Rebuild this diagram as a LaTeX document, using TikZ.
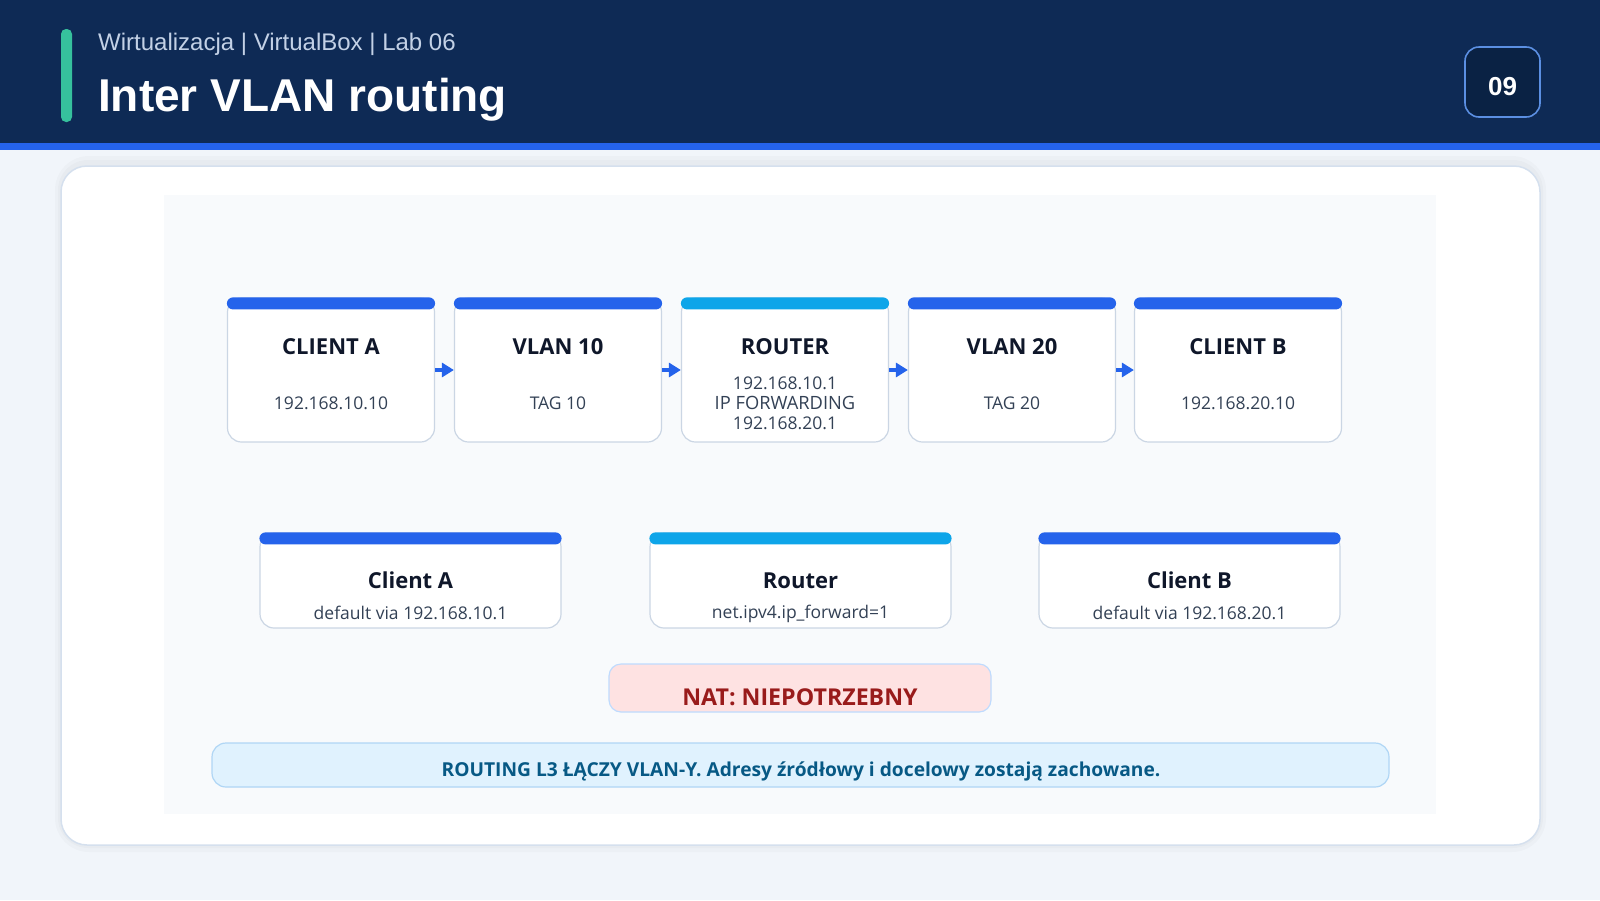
\documentclass[tikz,border=0pt]{standalone}
\usepackage{fontspec}
\setmainfont{Open Sans}
\newfontfamily\headfont{Liberation Sans}
\usetikzlibrary{arrows.meta}

\definecolor{headbg}{HTML}{0E2A55}
\definecolor{stripblue}{HTML}{2563EB}
\definecolor{accentgreen}{HTML}{36C19D}
\definecolor{subtitle}{HTML}{C3D1E6}
\definecolor{badgebg}{HTML}{0A2244}
\definecolor{badgeline}{HTML}{5B8FE2}
\definecolor{pagebg}{HTML}{F1F5FA}
\definecolor{panelline}{HTML}{D5E0EE}
\definecolor{innerbg}{HTML}{F8FAFC}
\definecolor{boxline}{HTML}{CBD6E4}
\definecolor{barblue}{HTML}{2563EB}
\definecolor{barsky}{HTML}{0EA5E9}
\definecolor{titletext}{HTML}{0F172A}
\definecolor{subtext}{HTML}{334155}
\definecolor{natfill}{HTML}{FEE2E2}
\definecolor{natline}{HTML}{BFDBFE}
\definecolor{nattext}{HTML}{991B1B}
\definecolor{notefill}{HTML}{E0F2FE}
\definecolor{noteline}{HTML}{B0D6F5}
\definecolor{notetext}{HTML}{075985}

\tikzset{
	stepbox/.style={draw=boxline, line width=1.2pt, fill=white, rounded corners=14pt, minimum width=207pt, minimum height=144pt, inner sep=0pt},
	cfgbox/.style={draw=boxline, line width=1.2pt, fill=white, rounded corners=14pt, minimum width=301pt, minimum height=95pt, inner sep=0pt},
	boxtitle/.style={font=\bfseries\fontsize{22}{26}\selectfont, text=titletext, anchor=base, inner sep=0pt},
	boxsub/.style={font=\fontsize{17.5}{21}\selectfont, text=subtext, anchor=base, inner sep=0pt},
	flow/.style={barblue, line width=4pt, -{Triangle[length=12pt, width=14pt]}}
}

\begin{document}
\begin{tikzpicture}[x=1pt, y=-1pt]
	\useasboundingbox (0,0) rectangle (1600,900);
	
	% Page and header
	\fill[pagebg] (0,0) rectangle (1600,900);
	\fill[headbg] (0,0) rectangle (1600,143);
	\fill[stripblue] (0,143) rectangle (1600,150);
	\fill[accentgreen, rounded corners=5pt] (61,29) rectangle (72,122);
	\node[anchor=base west, inner sep=0pt, text=subtitle, font=\headfont\fontsize{24}{28}\selectfont] (sub) at (98,50) {Wirtualizacja | VirtualBox | Lab 06};
	\node[anchor=base west, inner sep=0pt, text=white, font=\headfont\bfseries\fontsize{46}{50}\selectfont] (title) at (98,111) {Inter VLAN routing};
	
	% Slide number
	\node[draw=badgeline, line width=1.6pt, fill=badgebg, rounded corners=14pt, minimum width=75pt, minimum height=70pt] (num) at (1502.5,82) {};
	\node[text=white, font=\headfont\bfseries\fontsize{26}{30}\selectfont] (numtxt) at (1502.5,87) {09};
	
	% Panel
	\fill[black, opacity=0.02, rounded corners=34pt] (55,156) rectangle (1546,852);
	\fill[black, opacity=0.02, rounded corners=30pt] (58,160) rectangle (1543,848);
	\draw[panelline, line width=1.5pt, fill=white, rounded corners=26pt] (61,166) rectangle (1540,845);
	\fill[innerbg] (164,195) rectangle (1436,814);
	
	% Path boxes
	\node[stepbox] (ca) at (331,370) {};
	\node[stepbox] (v10) at (558,370) {};
	\node[stepbox] (rt) at (785,370) {};
	\node[stepbox] (v20) at (1012,370) {};
	\node[stepbox] (cb) at (1238,370) {};
	
	\fill[barblue, rounded corners=6pt] (ca.north west) rectangle ([yshift=-12pt]ca.north east);
	\fill[barblue, rounded corners=6pt] (v10.north west) rectangle ([yshift=-12pt]v10.north east);
	\fill[barsky, rounded corners=6pt] (rt.north west) rectangle ([yshift=-12pt]rt.north east);
	\fill[barblue, rounded corners=6pt] (v20.north west) rectangle ([yshift=-12pt]v20.north east);
	\fill[barblue, rounded corners=6pt] (cb.north west) rectangle ([yshift=-12pt]cb.north east);
	
	\node[boxtitle] (ca-t) at (331,354) {CLIENT A};
	\node[boxsub] (ca-s) at (331,409) {192.168.10.10};
	\node[boxtitle] (v10-t) at (558,354) {VLAN 10};
	\node[boxsub] (v10-s) at (558,409) {TAG 10};
	\node[boxtitle] (rt-t) at (785,354) {ROUTER};
	\node[boxsub] (rt-s1) at (785,389.5) {192.168.10.1};
	\node[boxsub, font=\fontsize{18.3}{21}\selectfont] (rt-s2) at (785,409.5) {IP FORWARDING};
	\node[boxsub] (rt-s3) at (785,429.5) {192.168.20.1};
	\node[boxtitle] (v20-t) at (1012,354) {VLAN 20};
	\node[boxsub] (v20-s) at (1012,409) {TAG 20};
	\node[boxtitle] (cb-t) at (1238,354) {CLIENT B};
	\node[boxsub] (cb-s) at (1238,409) {192.168.20.10};
	
	% Path arrows
	\draw[flow] (ca) -- (v10);
	\draw[flow] (v10) -- (rt);
	\draw[flow] (rt) -- (v20);
	\draw[flow] (v20) -- (cb);
	
	% Config boxes
	\node[cfgbox] (cfga) at (410.5,580.5) {};
	\node[cfgbox] (cfgr) at (800.5,580.5) {};
	\node[cfgbox] (cfgb) at (1189.5,580.5) {};
	
	\fill[barblue, rounded corners=6pt] (cfga.north west) rectangle ([yshift=-12pt]cfga.north east);
	\fill[barsky, rounded corners=6pt] (cfgr.north west) rectangle ([yshift=-12pt]cfgr.north east);
	\fill[barblue, rounded corners=6pt] (cfgb.north west) rectangle ([yshift=-12pt]cfgb.north east);
	
	\node[boxtitle] (cfga-t) at (410.5,588) {Client A};
	\node[boxsub] (cfga-s) at (410.5,619) {default via 192.168.10.1};
	\node[boxtitle] (cfgr-t) at (800.5,588) {Router};
	\node[boxsub] (cfgr-s) at (800.5,618) {net.ipv4.ip\_forward=1};
	\node[boxtitle] (cfgb-t) at (1189.5,588) {Client B};
	\node[boxsub] (cfgb-s) at (1189.5,619) {default via 192.168.20.1};
	
	% NAT
	\node[draw=natline, line width=1.2pt, fill=natfill, rounded corners=12pt, minimum width=382pt, minimum height=48pt] (nat) at (800,688) {};
	\node[anchor=base, inner sep=0pt, text=nattext, font=\bfseries\fontsize{23.2}{27}\selectfont] (nat-t) at (800,705) {NAT: NIEPOTRZEBNY};
	
	% Note
	\node[draw=noteline, line width=1.2pt, fill=notefill, rounded corners=14pt, minimum width=1177pt, minimum height=44pt] (note) at (800.5,765) {};
	\node[anchor=base, inner sep=0pt, text=notetext, font=\bfseries\fontsize{19.2}{22}\selectfont] (note-t) at (801,776) {ROUTING L3 ŁĄCZY VLAN-Y. Adresy źródłowy i docelowy zostają zachowane.};
\end{tikzpicture}
\end{document}
